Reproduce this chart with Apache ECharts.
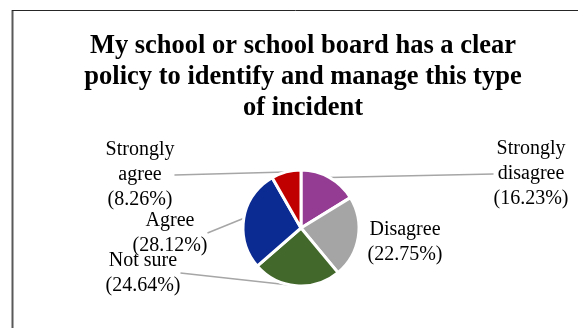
<!DOCTYPE html>
<html>
<head>
<meta charset="utf-8">
<script src="https://cdn.jsdelivr.net/npm/echarts@6/dist/echarts.min.js"></script>
<style>
  html, body { margin: 0; padding: 0; background: #fff; }
  #chart { width: 578px; height: 328px; }
</style>
</head>
<body>
<div id="chart"></div>
<script>
// Survey answers, in clockwise order starting at 12 o'clock
const categories = ['Strongly\ndisagree', 'Disagree', 'Not sure', 'Agree', 'Strongly\nagree'];
const shares = [16.23, 22.75, 24.64, 28.12, 8.26];
const sliceColors = ['#943c93', '#a5a5a5', '#43682b', '#0b2a92', '#c00000'];

// Where each label sits (centre of its text block) and whether it gets a leader line
const labelSpots = [
  { x: 531, y: 174, line: true },
  { x: 405, y: 242, line: false },
  { x: 143, y: 273, line: true },
  { x: 170, y: 233, line: true },
  { x: 140, y: 175, line: true }
];

const chart = echarts.init(document.getElementById('chart'), null, { renderer: 'canvas' });

const serif = '"Liberation Serif", "Times New Roman", serif';

chart.setOption({
  animation: false,
  backgroundColor: '#ffffff',
  title: {
    text: 'My school or school board has a clear\npolicy to identify and manage this type\nof incident',
    left: 303,
    top: 31,
    textAlign: 'center',
    padding: 0,
    textStyle: {
      fontFamily: serif,
      fontWeight: 'bold',
      fontSize: 26.5,
      lineHeight: 31,
      color: '#000000'
    }
  },
  graphic: [
    { type: 'line', shape: { x1: 12.5, y1: 10, x2: 12.5, y2: 340 }, style: { stroke: '#595959', lineWidth: 2 } },
    { type: 'line', shape: { x1: 12, y1: 10.5, x2: 590, y2: 10.5 }, style: { stroke: '#262626', lineWidth: 1 } }
  ],
  series: [{
    type: 'pie',
    center: [301, 228],
    radius: 58,
    startAngle: 90,
    clockwise: true,
    avoidLabelOverlap: false,
    itemStyle: { borderColor: '#ffffff', borderWidth: 3 },
    label: {
      show: true,
      position: 'outside',
      fontFamily: serif,
      fontSize: 20,
      lineHeight: 25,
      color: '#000000',
      align: 'center',
      formatter: p => p.name + '\n(' + shares[p.dataIndex].toFixed(2) + '%)'
    },
    labelLine: {
      show: true,
      length: 10,
      length2: 0,
      smooth: false,
      lineStyle: { color: '#a6a6a6', width: 1.5 }
    },
    labelLayout: p => ({
      x: labelSpots[p.dataIndex].x,
      y: labelSpots[p.dataIndex].y,
      align: 'center',
      verticalAlign: 'middle'
    }),
    data: categories.map((name, i) => ({
      name: name,
      value: shares[i],
      itemStyle: { color: sliceColors[i] },
      labelLine: { show: labelSpots[i].line }
    }))
  }]
});
</script>
</body>
</html>
